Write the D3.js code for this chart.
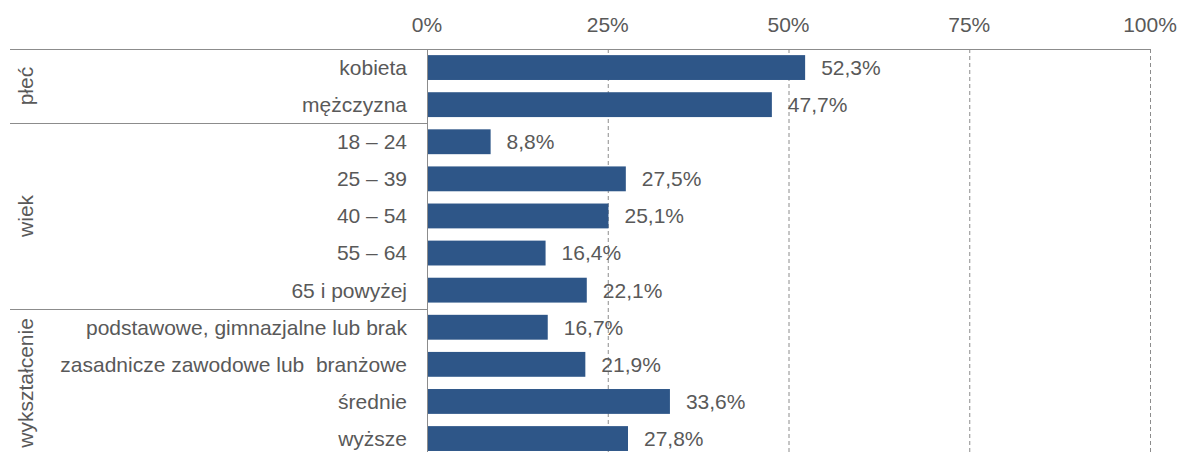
<!DOCTYPE html>
<html><head><meta charset="utf-8">
<script src="https://cdn.jsdelivr.net/npm/d3@7"></script>
<style>
html,body{margin:0;padding:0;background:#fff;}
svg text{font-family:"Liberation Sans",Arial,sans-serif;fill:#595959;white-space:pre;}
</style></head>
<body>
<svg id="c" width="1180" height="452"></svg>
<script>
const categories = ["kobieta","mężczyzna","18 – 24","25 – 39","40 – 54","55 – 64","65 i powyżej","podstawowe, gimnazjalne lub brak","zasadnicze zawodowe lub  branżowe","średnie","wyższe"];
const values = [52.3,47.7,8.8,27.5,25.1,16.4,22.1,16.7,21.9,33.6,27.8];
const groups = ["płeć","wiek","wykształcenie"];
const groupSizes = [2,5,4];
const ticks = [0,25,50,75,100];

const FS = "21px";
const svg = d3.select("#c");
const x = d3.scaleLinear().domain([0,100]).range([427,1150]);
const y = d3.scaleBand().domain(categories).range([49,49+11*37.1]).paddingInner(0.33).paddingOuter(0.165);
const lineCol = "#8c8c8c";
const fmt = v => d3.format(".1f")(v).replace(".",",") + "%";

// gridlines
svg.append("g").selectAll("line").data(ticks.slice(1)).join("line")
  .attr("x1", d=>x(d)+0.5).attr("x2", d=>x(d)+0.5)
  .attr("y1", 49).attr("y2", 460)
  .attr("stroke", lineCol).attr("stroke-width",1).attr("stroke-dasharray","4,3");

// tick labels
svg.append("g").selectAll("text").data(ticks).join("text")
  .attr("x", d=>x(d)).attr("y", 32)
  .attr("text-anchor","middle").attr("font-size",FS)
  .text(d=>d+"%");

// bars
svg.append("g").selectAll("rect").data(values).join("rect")
  .attr("x", x(0)+1).attr("y", (d,i)=>y(categories[i]))
  .attr("width", d=>x(d)-x(0)-1).attr("height", y.bandwidth())
  .attr("fill","#2e5688");

// value labels
svg.append("g").selectAll("text").data(values).join("text")
  .attr("x", d=>x(d)+16).attr("y", (d,i)=>y(categories[i])+y.bandwidth()/2)
  .attr("dy","0.35em").attr("font-size",FS)
  .text(d=>fmt(d));

// category labels
svg.append("g").selectAll("text").data(categories).join("text")
  .attr("x", 407).attr("y", d=>y(d)+y.bandwidth()/2)
  .attr("dy","0.35em").attr("text-anchor","end").attr("font-size",FS)
  .text(d=>d);

// top line
svg.append("line").attr("x1",10).attr("x2",1150).attr("y1",49.5).attr("y2",49.5)
  .attr("stroke",lineCol).attr("stroke-width",1);
// vertical axis
svg.append("line").attr("x1",x(0)+0.5).attr("x2",x(0)+0.5).attr("y1",49).attr("y2",460)
  .attr("stroke",lineCol).attr("stroke-width",1);

// group separators and labels
let start = 0;
const step = y.step();
groupSizes.forEach((n,gi)=>{
  const y0 = y(categories[start]) - y.paddingInner()*step/2;
  const y1 = y0 + n*step;
  if (gi>0) {
    svg.append("line").attr("x1",10).attr("x2",x(0)).attr("y1",Math.round(y0)+0.5).attr("y2",Math.round(y0)+0.5)
      .attr("stroke",lineCol).attr("stroke-width",1);
  }
  svg.append("text").attr("transform",`translate(33,${(y0+y1)/2}) rotate(-90)`)
    .attr("text-anchor","middle").attr("font-size",FS).text(groups[gi]);
  start += n;
});
</script>
</body></html>
